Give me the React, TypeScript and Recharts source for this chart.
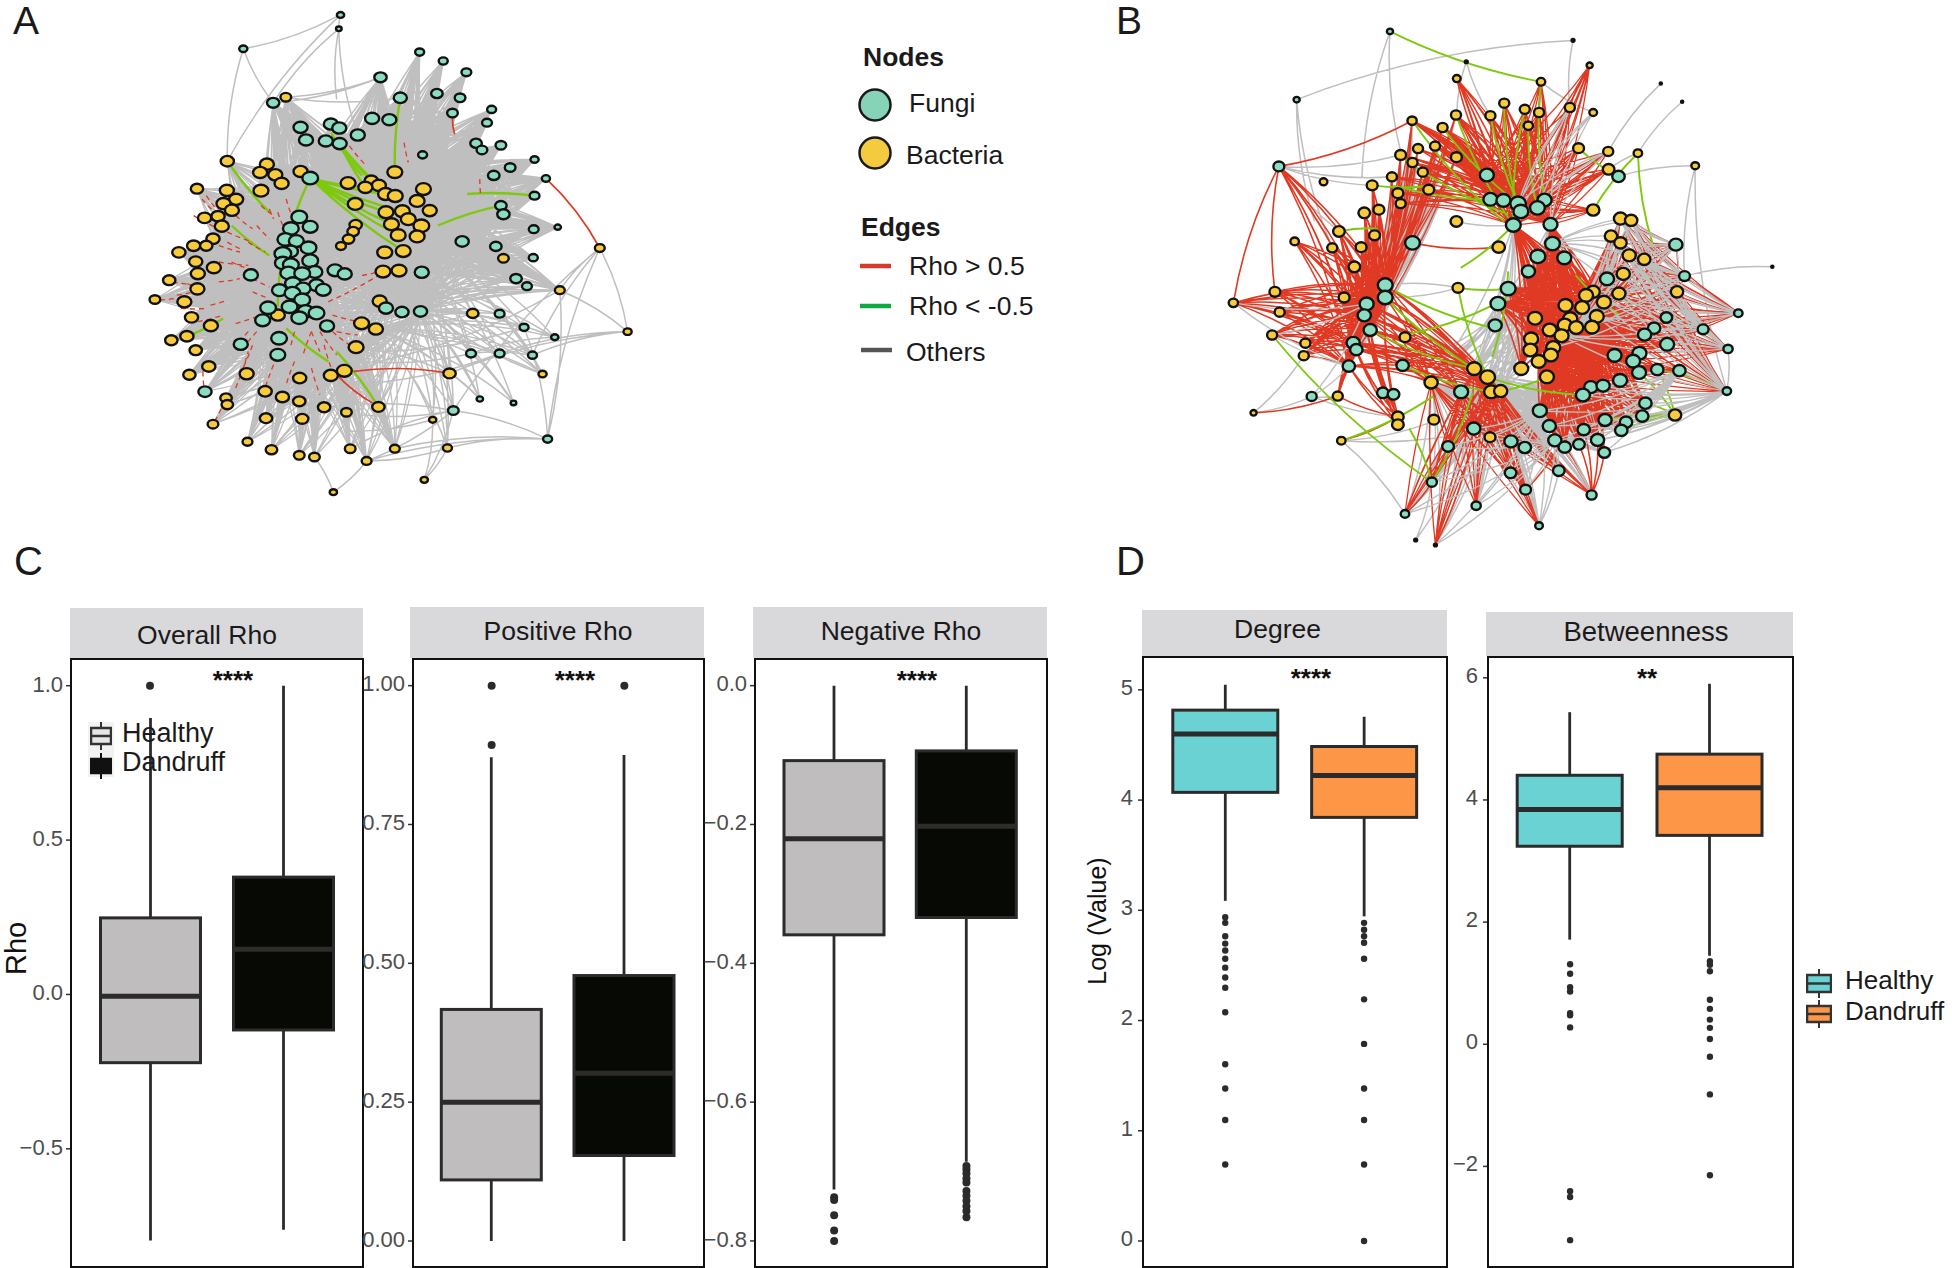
import { ComposedChart, ScatterChart, Scatter, Bar, XAxis, YAxis, ReferenceDot } from 'recharts';

const SANS = '"Liberation Sans", Arial, sans-serif';
const FUNGI = '#8bdcc0';
const BACTERIA = '#f8cb3c';
const EDGE_GRAY = '#bfbfbf';
const EDGE_RED = '#e03a24';
const EDGE_GREEN = '#7ec80e';

// Network nodes: x, y, radius (in a 1568 x 1568 frame laid over each panel)
const fungiA = [
  809,45,8, 805,87,6, 578,147,9, 997,157,10, 1053,184,10, 1108,218,11, 904,233,14, 1038,282,13, 1093,295,12, 951,295,15,
  649,310,14, 1168,330,10, 1075,341,12, 884,357,16, 925,361,16, 1157,370,11, 786,374,16, 806,386,16, 714,384,16, 850,407,16,
  727,422,16, 774,425,16, 807,433,16, 1131,432,13, 1145,452,12, 1190,438,12, 1004,467,10, 1270,481,9, 1212,505,12, 1173,529,13,
  737,537,18, 1297,538,9, 1270,590,11, 1190,620,13, 1196,646,14, 1325,685,7, 1268,691,11, 711,654,18, 691,689,18, 737,684,17,
  678,722,18, 704,727,17, 733,747,18, 1098,728,15, 1178,743,13, 690,758,17, 672,765,19, 1267,777,10, 737,786,18, 672,793,18,
  691,798,18, 796,815,17, 819,826,16, 748,820,17, 685,823,18, 718,825,18, 596,829,16, 1002,821,16, 1226,840,13, 1252,863,11,
  752,860,17, 696,855,18, 720,870,17, 664,875,17, 768,874,17, 695,884,18, 718,904,18, 637,928,18, 688,925,18, 726,939,18,
  752,944,18, 917,929,16, 955,941,15, 999,939,15, 1187,946,11, 711,958,18, 624,966,17, 777,983,16, 1245,987,10, 1318,1017,8,
  663,1020,18, 572,1038,16, 660,1070,17, 1119,1066,11, 1187,1066,11, 1265,1071,10, 487,1181,15, 1077,1238,12, 1140,1203,7,
  1220,1215,6, 1301,1324,10,
];
const bacteriaA = [
  679,293,12, 540,486,15, 634,495,16, 714,517,16, 618,520,16, 654,527,16, 669,553,16, 938,519,17, 468,569,14, 539,574,16,
  620,575,17, 827,552,17, 882,545,15, 900,559,16, 868,565,16, 916,585,17, 939,591,17, 1006,570,17, 561,601,16, 531,614,16,
  991,606,17, 844,615,17, 1021,635,16, 551,634,16, 917,640,17, 956,637,17, 486,657,15, 518,652,15, 970,661,17, 845,678,14,
  930,676,17, 1001,681,18, 527,682,16, 839,698,13, 946,709,17, 991,713,17, 828,721,13, 506,720,15, 460,741,15, 490,741,14,
  810,742,11, 914,761,17, 958,757,17, 425,761,15, 465,789,15, 1196,779,12, 508,807,16, 910,819,17, 948,816,17, 470,825,16,
  402,845,14, 469,871,16, 368,903,12, 438,910,16, 1330,875,11, 902,908,16, 455,957,15, 660,950,16, 859,975,17, 1123,945,13,
  893,992,16, 501,982,16, 407,1026,14, 444,1014,15, 465,1056,14, 846,1047,17, 1491,1000,9, 496,1105,15, 450,1130,14, 586,1127,16,
  712,1140,15, 786,1132,16, 818,1118,17, 1068,1126,14, 1289,1128,9, 630,1180,15, 671,1197,15, 711,1210,14, 537,1200,13, 540,1220,13,
  770,1228,14, 899,1227,14, 823,1243,12, 632,1261,14, 718,1263,14, 506,1279,12, 1028,1266,8, 588,1332,11, 645,1356,13, 711,1373,12,
  747,1378,12, 832,1353,12, 871,1390,11, 938,1353,11, 1063,1351,10, 1008,1447,8, 792,1484,8, 1425,748,11,
];
const fungiB = [
  250,466,13, 776,490,17, 1109,494,15, 785,558,17, 818,561,17, 855,570,19, 862,592,18, 922,560,17, 904,582,18, 843,630,18,
  937,628,17, 588,680,18, 1254,685,16, 942,682,18, 905,718,18, 972,722,17, 881,760,16, 1080,781,17, 1276,773,13, 830,808,18,
  519,798,18, 519,833,18, 472,851,17, 466,883,16, 804,850,18, 797,911,16, 481,924,16, 1412,877,10, 1230,889,14, 1199,919,15,
  1175,937,16, 1323,922,13, 438,960,16, 446,979,15, 1232,964,17, 1386,977,11, 1162,989,17, 1099,995,17, 1146,1011,17, 427,1025,15,
  563,1023,15, 1207,1035,15, 1161,1043,17, 1263,1038,15, 1113,1065,17, 1039,1084,16, 1070,1080,16, 1019,1106,17, 513,1100,14, 540,1104,14,
  333,1110,12, 711,1097,17, 1383,1095,10, 1177,1129,15, 910,1150,17, 1169,1165,15, 1075,1176,16, 1128,1182,15, 934,1193,16, 1116,1205,15,
  743,1200,16, 1021,1203,15, 948,1233,16, 837,1236,16, 1056,1232,16, 872,1253,15, 973,1252,15, 1009,1244,14, 678,1250,14, 1073,1267,14,
  836,1324,14, 958,1318,14, 874,1371,13, 637,1350,12, 1041,1386,12, 749,1416,11, 569,1439,10, 908,1472,9, 531,88,7, 295,279,7,
];
const bacteriaB = [
  913,229,10, 700,220,9, 1036,183,7, 820,289,12, 986,301,12, 872,306,12, 908,315,12, 1045,315,9, 698,322,12, 785,324,12,
  587,338,11, 881,352,11, 664,357,12, 1008,415,13, 1083,424,12, 1158,429,10, 602,416,12, 645,409,12, 558,434,13, 699,440,13,
  588,455,12, 1303,464,9, 614,482,12, 1084,474,14, 536,495,12, 363,509,9, 486,519,13, 629,531,13, 551,541,13, 558,570,12,
  1045,588,15, 503,587,13, 466,596,14, 1114,612,16, 1141,617,15, 699,620,14, 402,648,14, 492,659,13, 290,676,10, 385,694,12,
  458,692,13, 806,692,15, 1090,661,15, 1114,680,15, 1136,715,16, 1174,726,15, 441,747,14, 1121,767,16, 703,806,13, 240,817,13,
  415,833,13, 1045,817,16, 1027,827,17, 1110,822,16, 1257,817,15, 1072,846,17, 135,848,11, 975,855,17, 1017,861,17, 252,874,12,
  1054,886,17, 898,891,17, 987,892,17, 973,910,17, 1002,917,17, 1042,916,17, 935,924,17, 965,940,17, 569,944,13, 233,938,12,
  888,949,17, 317,961,12, 886,980,17, 944,973,17, 938,994,17, 313,996,12, 907,1012,17, 744,1032,17, 863,1032,17, 778,1056,18,
  928,1055,17, 635,1071,16, 787,1097,17, 811,1095,16, 399,1109,12, 551,1167,14, 1252,1162,15, 642,1175,13, 551,1189,14, 186,1156,7,
  784,1224,13, 408,1234,10,
];
const tinyB = [994,113,3, 724,173,3, 1216,234,2, 1270,285,2, 1498,747,2, 596,1512,3, 646,1526,3];

// Node groups that the edge bundles of network A run between
const aCentre = [711,654, 691,689, 737,684, 678,722, 733,747, 672,765, 737,786, 691,798, 718,825, 696,855, 664,875, 768,874, 718,904, 637,928, 688,925, 752,944, 624,966, 737,537];
const aLeft = [540,486, 468,569, 539,574, 561,601, 531,614, 551,634, 486,657, 518,652, 527,682, 506,720, 460,741, 490,741, 425,761, 465,789, 508,807, 470,825, 402,845, 469,871, 368,903, 438,910, 455,957, 501,982, 407,1026, 444,1014, 465,1056, 496,1105, 450,1130];
const aBottom = [586,1127, 712,1140, 786,1132, 818,1118, 630,1180, 671,1197, 711,1210, 537,1200, 540,1220, 770,1228, 899,1227, 823,1243, 632,1261, 718,1263, 506,1279, 487,1181, 588,1332, 645,1356, 711,1373, 747,1378, 832,1353, 871,1390, 938,1353];
const aTop = [904,233, 951,295, 884,357, 925,361, 786,374, 806,386, 714,384, 850,407, 727,422, 774,425, 807,433, 649,310, 679,293, 634,495, 714,517, 618,520, 654,527, 669,553, 620,575];
const aMid = [827,552, 882,545, 900,559, 868,565, 916,585, 939,591, 1006,570, 991,606, 844,615, 1021,635, 917,640, 956,637, 970,661, 930,676, 1001,681, 946,709, 991,713, 914,761, 958,757, 910,819, 948,816, 1002,821, 902,908, 917,929, 955,941, 999,939, 938,519];
const aMidHub = [916,585, 1006,570, 991,713, 958,757, 910,819, 1002,821, 917,929, 999,939, 1001,681, 946,709];
const aMidFew = [991,713, 910,819, 999,939, 893,992];
const aRight = [997,157, 1053,184, 1108,218, 1038,282, 1093,295, 1168,330, 1075,341, 1157,370, 1131,432, 1145,452, 1190,438, 1004,467, 1270,481, 1212,505, 1173,529, 1297,538, 1270,590, 1190,620, 1196,646, 1325,685, 1268,691, 1098,728, 1178,743, 1267,777, 1196,779, 1226,840, 1252,863, 1330,875];
const aLowRight = [1123,945, 1187,946, 1245,987, 1318,1017, 1119,1066, 1187,1066, 1265,1071, 1068,1126, 1289,1128, 1140,1203, 1220,1215, 1077,1238, 1028,1266, 1063,1351];

// Single edges, x1,y1,x2,y2
const aGrayEdges = [
  809,45,540,486, 805,87,850,407, 805,87,800,300, 809,45,805,87, 578,147,540,486, 578,147,649,310, 578,147,800,50, 805,87,649,310,
  1491,1000,1330,875, 1491,1000,1425,748, 1491,1000,1265,1071, 1491,1000,1187,1066, 1491,1000,1068,1126, 1425,748,1301,1324, 1425,748,1077,1238, 1425,748,1330,875,
  1425,748,1265,1071, 1301,1324,1330,875, 1301,1324,871,1390, 1301,1324,938,1353, 1301,1324,1063,1351, 1301,1324,1077,1238, 1301,1324,1245,987, 1008,1447,1077,1238,
  1008,1447,1063,1351, 792,1484,747,1378, 792,1484,871,1390, 871,1390,1077,1238, 871,1390,1063,1351, 1008,1447,1028,1266, 679,293,904,233, 679,293,951,295, 649,310,904,233,
  1318,1017,1119,1066, 1265,1071,1119,1066, 1289,1128,1187,946, 1220,1215,1119,1066, 1140,1203,1068,1126, 1077,1238,832,1353, 1077,1238,770,1228, 1068,1126,846,1047,
  900,1090,1330,875, 880,1060,1245,987, 860,1090,1119,1066, 830,1160,1187,1066, 850,1250,1077,1238, 820,1300,1028,1266, 960,980,1123,945, 1040,960,1289,1128,
];
// Red streaks that show between the gray lines
const aRedStreaks = [
  410,850,470,860, 380,905,440,895, 445,855,470,870, 600,840,640,865, 480,600,510,640, 520,740,570,760, 520,790,590,800, 540,730,570,750,
  620,620,650,650, 680,600,690,640, 640,630,650,660, 560,1170,590,1060, 650,1100,630,1170, 740,1000,720,1070, 790,950,850,970, 790,1000,830,1040,
  770,1040,790,1120, 482,1120,485,1170, 510,1270,530,1220, 860,830,900,820, 780,910,900,830, 1140,540,1142,590, 960,430,970,490,
  830,440,870,500, 490,590,520,640, 730,760,760,800, 740,1000,760,1060, 560,975,610,955, 500,920,540,905, 520,850,570,840,
  570,1130,600,1040, 610,1000,590,1030, 655,1090,670,1030, 550,790,610,820, 540,700,600,730, 600,880,640,900, 420,890,460,880, 700,1000,690,1050,
  610,680,640,720, 760,1000,800,1070, 460,650,520,690, 560,650,600,690, 590,730,630,760, 660,640,672,680, 590,1000,570,1030, 700,1090,680,1160,
  740,1110,760,1190, 800,1000,850,1010, 470,970,530,950, 430,930,490,930,
];
const aRedEdges = [1425,748,1297,538, 1068,1126,840,1120, 800,1130,885,1215, 1075,355,1080,405];
const aGreenEdges = [
  807,433,868,565, 807,433,900,559, 807,433,882,545, 786,400,860,530, 951,295,938,519, 1190,620,1040,680, 737,537,672,765, 672,765,660,925,
  1270,590,1110,585, 540,486,640,640, 444,1014,530,960, 899,1227,800,1060, 550,680,640,770, 680,990,780,1090,
  737,537,917,640, 737,537,930,676, 737,537,946,709, 737,537,958,757, 737,537,956,637, 737,537,916,585, 737,537,868,565,
];

// Node groups that the edge bundles of network B run between
const bLeftHub = [519,798, 519,833, 472,851, 466,883, 481,924, 438,960, 446,979, 427,1025];
const bLeftFew = [519,798, 472,851, 481,924];
const bLeftRing = [135,848, 240,817, 252,874, 233,938, 317,961, 313,996, 415,833, 441,747, 385,694, 458,692, 402,648, 492,659, 466,596, 503,587, 486,519, 290,676, 250,466, 399,1109, 551,1167, 551,1189];
const bUpLeft = [558,434, 588,455, 536,495, 614,482, 629,531, 551,541, 558,570, 602,416, 645,409, 664,357, 699,440, 587,338, 698,322];
const bTopHub = [776,490, 785,558, 818,561, 855,570, 862,592, 904,582, 922,560, 843,630, 937,628];
const bTopFew = [855,570, 904,582, 843,630, 937,628];
const bTopRing = [700,220, 820,289, 872,306, 908,315, 785,324, 881,352, 986,301, 1036,183, 913,229, 1008,415, 1083,424, 1084,474, 1045,588, 698,322, 664,357, 587,338, 645,409, 699,440];
const bCore = [1045,817, 1027,827, 975,855, 1017,861, 1072,846, 1054,886, 898,891, 987,892, 973,910, 1002,917, 1042,916, 935,924, 965,940, 888,949, 886,980, 944,973, 938,994, 907,1012, 863,1032, 928,1055];
const bCoreFew = [1045,817, 1072,846, 1054,886, 1002,917, 965,940, 944,973, 907,1012, 928,1055];
const bUpperHub = [942,682, 905,718, 972,722, 881,760, 843,630, 937,628, 1080,781, 830,808, 804,850];
const bRightF = [1230,889, 1199,919, 1175,937, 1232,964, 1162,989, 1099,995, 1146,1011, 1207,1035, 1161,1043, 1263,1038, 1113,1065, 1254,685, 1276,773, 1323,922, 1412,877, 1386,977, 1383,1095];
const bRightOuter = [1254,685, 1276,773, 1323,922, 1412,877, 1386,977, 1383,1095];
const bRightB = [1114,612, 1141,617, 1090,661, 1114,680, 1136,715, 1174,726, 1121,767, 1110,822, 1257,817];
const bLowF = [1039,1084, 1070,1080, 1019,1106, 1177,1129, 1169,1165, 1075,1176, 1128,1182, 1116,1205, 1021,1203, 948,1233, 1056,1232, 973,1252, 1009,1244, 1073,1267, 934,1193, 910,1150];
const bMidLow = [744,1032, 778,1056, 787,1097, 811,1095, 635,1071, 711,1097];
const bBottom = [837,1236, 872,1253, 836,1324, 958,1318, 874,1371, 743,1200, 784,1224, 678,1250, 637,1350, 749,1416, 908,1472, 1041,1386, 646,1526, 569,1439];
const bGrayEdges = [
  531,88,460,500, 531,88,560,434, 994,113,295,279, 994,113,986,301, 724,173,785,324, 724,173,700,320, 295,279,385,694, 295,279,340,620,
  1216,234,1083,424, 1270,285,1158,429, 1158,429,1084,474, 1303,464,1109,494, 1303,464,1276,773, 1303,464,1383,1095, 1498,747,1276,773, 913,229,1045,315,
  250,466,558,434, 250,466,536,495, 250,466,486,519, 250,466,402,648, 186,1156,313,996, 186,1156,333,1110, 333,1110,551,1167, 333,1110,399,1109,
  408,1234,778,1200, 408,1234,640,1180, 569,1439,408,1234, 569,1439,637,1350, 596,1512,743,1200, 596,1512,636,1350, 908,1472,874,1371, 908,1472,958,1318,
  637,1350,678,1250, 637,1350,743,1200, 749,1416,743,1200, 703,806,830,808, 703,806,519,798, 519,833,703,806, 699,620,843,630, 588,680,458,692,
  1383,1095,1263,1038, 1383,1095,1386,977, 1386,977,1323,922, 1412,877,1230,889, 1386,977,1232,964, 680,970,800,880, 670,1000,800,880, 690,990,804,890,
];
const bRedEdges = [
  250,466,587,338, 250,466,135,848, 250,466,240,817, 186,1156,399,1109, 399,1109,551,1167, 408,1234,551,1167, 646,1526,743,1200, 569,1439,637,1350,
  1041,1386,1021,1203, 1041,1386,1056,1232, 1041,1386,1009,1244, 1041,1386,1073,1267, 1041,1386,973,1252, 1041,1386,948,1233, 874,1371,958,1250, 588,680,806,692,
  700,220,800,500, 1036,183,986,301, 1412,877,1174,726, 1386,977,1175,937, 1254,685,1136,715, 1276,773,1121,767,
];
const bGreenEdges = [
  531,88,913,229, 913,229,922,560, 1158,429,1045,588, 1158,429,1197,690, 1252,1162,1169,1165, 1252,1162,1177,1129, 1252,1162,1128,1182, 1252,1162,1116,1205,
  1252,1162,1075,1176, 1252,1162,1207,1035, 1252,1162,1161,1043, 1383,1095,1230,1040, 408,1234,640,1110, 233,938,637,1350, 637,1350,580,1200, 637,1350,740,1100,
  703,806,778,1056, 703,806,830,808, 710,750,843,630, 560,940,800,850, 545,815,800,920, 500,640,402,648, 486,519,630,520, 790,1000,830,760,
  560,440,830,600, 540,520,800,560, 588,338,820,620, 820,289,850,560, 1008,415,1109,494, 778,1056,1019,1106, 811,1095,928,1055, 1000,770,1110,880,
  785,324,855,570, 872,306,843,630, 881,352,904,582, 698,322,843,630, 664,357,855,570, 519,833,778,1056, 481,924,744,1032, 563,1023,787,1097,
];

// Box plot statistics
const overallStats = [
  { group: 'Healthy', lo: -0.797, q1: -0.221, med: -0.006, q3: 0.248, hi: 0.895 },
  { group: 'Dandruff', lo: -0.762, q1: -0.115, med: 0.146, q3: 0.38, hi: 1.0 },
];
const overallOutliers = { Healthy: [1.0], Dandruff: [] as number[] };
const positiveStats = [
  { group: 'Healthy', lo: 0, q1: 0.11, med: 0.25, q3: 0.417, hi: 0.871 },
  { group: 'Dandruff', lo: 0, q1: 0.154, med: 0.302, q3: 0.478, hi: 0.875 },
];
const positiveOutliers = { Healthy: [1.0, 0.893], Dandruff: [1.0] };
const negativeStats = [
  { group: 'Healthy', lo: -0.726, q1: -0.359, med: -0.2206, q3: -0.108, hi: 0 },
  { group: 'Dandruff', lo: -0.686, q1: -0.334, med: -0.2025, q3: -0.094, hi: 0 },
];
const negativeOutliers = {
  Healthy: [-0.737, -0.741, -0.763, -0.785, -0.8],
  Dandruff: [-0.692, -0.697, -0.703, -0.71, -0.716, -0.728, -0.735, -0.742, -0.75, -0.757, -0.766],
};
const degreeStats = [
  { group: 'Healthy', lo: 3.086, q1: 4.07, med: 4.6, q3: 4.816, hi: 5.047 },
  { group: 'Dandruff', lo: 2.945, q1: 3.843, med: 4.224, q3: 4.486, hi: 4.757 },
];
const degreeOutliers = {
  Healthy: [2.937, 2.886, 2.765, 2.698, 2.635, 2.56, 2.48, 2.39, 2.298, 2.075, 1.604, 1.384, 1.098, 0.694],
  Dandruff: [2.886, 2.824, 2.765, 2.706, 2.56, 2.192, 1.788, 1.384, 1.098, 0.694, 0],
};
const betweenStats = [
  { group: 'Healthy', lo: 1.713, q1: 3.242, med: 3.844, q3: 4.404, hi: 5.437 },
  { group: 'Dandruff', lo: 1.451, q1: 3.42, med: 4.198, q3: 4.75, hi: 5.904 },
];
const betweenOutliers = {
  Healthy: [1.31, 1.154, 0.934, 0.864, 0.51, 0.474, 0.276, -2.407, -2.5, -3.207],
  Dandruff: [1.36, 1.303, 1.196, 0.729, 0.58, 0.404, 0.269, 0.085, -0.205, -0.821, -2.145],
};

const GRAYS = { Healthy: '#bfbdbe', Dandruff: '#070a04' };
const COLOURS = { Healthy: '#6bd2d4', Dandruff: '#fe9648' };

type Pt = { x: number; y: number };

function points(flat: number[]): Pt[] {
  const out: Pt[] = [];
  for (let i = 0; i < flat.length; i += 2) out.push({ x: flat[i], y: flat[i + 1] });
  return out;
}
// every node of one group linked to every node of the other, as consecutive point pairs
function bundle(a: number[], b: number[]): Pt[] {
  const pa = points(a);
  const pb = points(b);
  return pa.flatMap((p) => pb.flatMap((q) => (p.x === q.x && p.y === q.y ? [] : [p, q])));
}
function nodes(flat: number[], fill: string, sx: number, sy: number) {
  const out = [];
  for (let i = 0; i < flat.length; i += 3) {
    out.push({ x: flat[i], y: flat[i + 1], rx: flat[i + 2] * sx + 0.3, ry: flat[i + 2] * sy + 0.3, fill });
  }
  return out;
}

function NodeMark({ cx, cy, payload }: any) {
  return <ellipse cx={cx} cy={cy} rx={payload.rx} ry={payload.ry} fill={payload.fill} stroke="#111" strokeWidth={2.4} />;
}
const noMark = () => null;

// draws the scaled point pairs of one edge layer as slightly bent lines
function edgeLine(stroke: string, width: number, bend: number, dash?: string) {
  return ({ points: pts }: any) => {
    let d = '';
    for (let i = 0; i + 1 < pts.length; i += 2) {
      const a = pts[i];
      const b = pts[i + 1];
      const mx = (a.x + b.x) / 2 - (b.y - a.y) * bend;
      const my = (a.y + b.y) / 2 + (b.x - a.x) * bend;
      d += `M${a.x.toFixed(1)} ${a.y.toFixed(1)}Q${mx.toFixed(1)} ${my.toFixed(1)} ${b.x.toFixed(1)} ${b.y.toFixed(1)}`;
    }
    return <path d={d} fill="none" stroke={stroke} strokeWidth={width} strokeDasharray={dash} />;
  };
}

function Network({ left, top, width, height, layers, nodeSets }: any) {
  return (
    <div style={{ position: 'absolute', left, top }}>
      <ScatterChart width={width} height={height} margin={{ top: 0, right: 0, bottom: 0, left: 0 }}>
        <XAxis type="number" dataKey="x" domain={[0, 1568]} hide />
        <YAxis type="number" dataKey="y" domain={[0, 1568]} reversed hide />
        {layers.map((l: any, i: number) => (
          <Scatter
            key={i}
            data={l.pts}
            shape={noMark}
            line={edgeLine(l.stroke, l.width, l.bend, l.dash)}
            lineType="joint"
            isAnimationActive={false}
          />
        ))}
        {nodeSets.map((s: any, i: number) => (
          <Scatter key={`n${i}`} data={s} shape={NodeMark} isAnimationActive={false} />
        ))}
      </ScatterChart>
    </div>
  );
}

function BoxMark({ x, y, width, height, payload, fills, medianWidth }: any) {
  const k = height / (payload.q3 - payload.q1);
  const mid = x + width / 2;
  const medY = y + (payload.q3 - payload.med) * k;
  const hiY = y - (payload.hi - payload.q3) * k;
  const loY = y + height + (payload.q1 - payload.lo) * k;
  const dark = payload.group === 'Dandruff' && fills.Dandruff === '#070a04';
  return (
    <g>
      <line x1={mid} x2={mid} y1={hiY} y2={loY} stroke="#2b2b2b" strokeWidth={2.8} />
      <rect x={x} y={y} width={width} height={height} fill={fills[payload.group]} stroke="#2b2b2b" strokeWidth={3} />
      <line x1={x} x2={x + width} y1={medY} y2={medY} stroke={dark ? '#2e2c2a' : '#2b2b2b'} strokeWidth={medianWidth} />
    </g>
  );
}

function BoxPanel({
  title, left, right, top, stripTop, stripLeft, titleX, titleY, titleSize = 26.5, axisWidth = 60,
  stats, outliers, domain, ticks, format, pad, barSize, fills, dotR, sig, sigX, shift = 1, tickDy = -2, tickMargin = 3,
}: any) {
  const width = right - left;
  const height = 1267 - top;
  return (
    <>
      <div style={{ position: 'absolute', left: stripLeft, top: stripTop, width: right - stripLeft, height: top - stripTop, background: '#d9d8da' }} />
      <div style={{ position: 'absolute', left: titleX - 150, width: 300, top: titleY - 20, height: 40, lineHeight: '40px', textAlign: 'center', fontFamily: SANS, fontSize: titleSize, color: '#1a1a1a' }}>
        {title}
      </div>
      <div style={{ position: 'absolute', left: left - axisWidth, top: top + shift }}>
        <ComposedChart width={width + axisWidth} height={height} data={stats} margin={{ top: 0, right: 0, bottom: 0, left: 0 }}>
          <XAxis type="category" dataKey="group" hide padding={{ left: pad, right: pad }} />
          <YAxis
            type="number"
            width={axisWidth}
            domain={domain}
            allowDataOverflow
            ticks={ticks}
            interval={0}
            tickFormatter={format}
            axisLine={false}
            tickSize={4}
            tickMargin={tickMargin}
            tickLine={{ stroke: '#333', strokeWidth: 1.5 }}
            tick={{ fontSize: 22, fill: '#4d4d4d', fontFamily: SANS, dy: tickDy }}
          />
          <Bar
            dataKey={(d: any) => [d.q1, d.q3]}
            barSize={barSize}
            isAnimationActive={false}
            shape={(p: any) => <BoxMark {...p} fills={fills} medianWidth={5} />}
          />
          {outliers.Healthy.map((v: number, i: number) => (
            <ReferenceDot key={`h${i}`} x="Healthy" y={v} r={dotR} fill="#2b2b2b" stroke="none" />
          ))}
          {outliers.Dandruff.map((v: number, i: number) => (
            <ReferenceDot key={`d${i}`} x="Dandruff" y={v} r={dotR} fill="#2b2b2b" stroke="none" />
          ))}
        </ComposedChart>
      </div>
      <div style={{ position: 'absolute', left, top, width: width - 3, height: height - 3, border: '2px solid #111', pointerEvents: 'none' }} />
      <div style={{ position: 'absolute', left: sigX - 50, width: 100, top: top + 7, textAlign: 'center', fontFamily: SANS, fontWeight: 700, fontSize: 26, lineHeight: '30px', color: '#111' }}>
        {sig}
      </div>
    </>
  );
}

function Txt({ x, y, size = 26.5, bold, color = '#1a1a1a', children }: any) {
  return (
    <div style={{ position: 'absolute', left: x, top: y - 20, height: 40, lineHeight: '40px', whiteSpace: 'nowrap', fontFamily: SANS, fontSize: size, fontWeight: bold ? 700 : 400, color }}>
      {children}
    </div>
  );
}

function BoxKey({ x, y, w, h, fill, stroke = '#333' }: any) {
  return (
    <svg style={{ position: 'absolute', left: x, top: y - 6 }} width={w + 2} height={h + 12}>
      <line x1={w / 2 + 1} x2={w / 2 + 1} y1={0} y2={h + 12} stroke={stroke} strokeWidth={2} />
      <rect x={1} y={6} width={w} height={h} fill={fill} stroke={stroke} strokeWidth={2.5} />
      <line x1={1} x2={w + 1} y1={6 + h / 2} y2={6 + h / 2} stroke={stroke} strokeWidth={2.5} />
    </svg>
  );
}

const signed = (digits: number) => (v: number) => (v < 0 ? `\u2212${Math.abs(v).toFixed(digits)}` : v.toFixed(digits));
const plainInt = (v: number) => (v < 0 ? `\u2212${Math.abs(v)}` : `${v}`);

const layersA = [
  { pts: bundle(aLeft, aCentre), stroke: EDGE_GRAY, width: 1.3, bend: 0.06 },
  { pts: bundle(aBottom, aCentre), stroke: EDGE_GRAY, width: 1.3, bend: 0.06 },
  { pts: bundle(aTop, aMid), stroke: EDGE_GRAY, width: 1.6, bend: 0.05 },
  { pts: bundle(aTop, aCentre), stroke: EDGE_GRAY, width: 1.4, bend: 0.05 },
  { pts: bundle(aRight, aMid), stroke: EDGE_GRAY, width: 1.6, bend: 0.05 },
  { pts: bundle(aLowRight, aMidFew), stroke: EDGE_GRAY, width: 1.5, bend: 0.1 },
  { pts: bundle(aLeft, aMidHub), stroke: EDGE_GRAY, width: 1.2, bend: 0.04 },
  { pts: bundle(aBottom, aMidFew), stroke: EDGE_GRAY, width: 1.3, bend: 0.08 },
  { pts: points(aGrayEdges), stroke: EDGE_GRAY, width: 1.5, bend: 0.08 },
  { pts: points(aGreenEdges), stroke: EDGE_GREEN, width: 2.4, bend: 0.05 },
  { pts: points(aRedStreaks), stroke: EDGE_RED, width: 1.3, bend: 0.03, dash: '5 4' },
  { pts: points(aRedEdges), stroke: EDGE_RED, width: 1.7, bend: 0.08 },
];

const layersB = [
  { pts: [...bundle(bLeftHub, bUpLeft), ...bundle(bMidLow, bLowF), ...bundle(bMidLow, bUpperHub), ...bundle(bBottom, bMidLow), ...points(bGrayEdges)], stroke: EDGE_GRAY, width: 1.5, bend: 0.08 },
  { pts: bundle(bLeftHub, bLeftRing), stroke: EDGE_RED, width: 1.5, bend: 0.08 },
  { pts: bundle(bLeftFew, bUpLeft), stroke: EDGE_RED, width: 1.3, bend: 0.06 },
  { pts: bundle(bTopHub, bTopRing), stroke: EDGE_RED, width: 1.3, bend: 0.06 },
  { pts: bundle(bTopFew, bUpLeft), stroke: EDGE_RED, width: 1.3, bend: 0.07 },
  { pts: bundle(bCore, bUpperHub), stroke: EDGE_RED, width: 1.6, bend: 0.05 },
  { pts: bundle(bCoreFew, bRightF), stroke: EDGE_RED, width: 1.2, bend: 0.05 },
  { pts: bundle(bCoreFew, bRightB), stroke: EDGE_RED, width: 1.2, bend: 0.05 },
  { pts: bundle(bCoreFew, bLowF), stroke: EDGE_RED, width: 1.6, bend: 0.04 },
  { pts: bundle(bRightB, bRightOuter), stroke: EDGE_RED, width: 1.2, bend: 0.06 },
  { pts: bundle(bMidLow, bLeftHub), stroke: EDGE_RED, width: 1.4, bend: 0.08 },
  { pts: bundle(bMidLow, bBottom), stroke: EDGE_RED, width: 1.3, bend: 0.04 },
  { pts: points(bRedEdges), stroke: EDGE_RED, width: 1.6, bend: 0.08 },
  { pts: points(bGreenEdges), stroke: EDGE_GREEN, width: 1.9, bend: 0.07 },
  { pts: [...bundle(bRightB, bRightOuter), ...bundle(bRightB, [942,682, 1080,781]), ...bundle([1083,424, 1045,315, 986,301], bTopFew), ...bundle(bLowF, [1383,1095, 1263,1038]), ...bundle(bBottom, [948,1233, 910,1150]), ...bundle([136,848, 333,1110, 233,938], [472,851, 427,1025]), ...bundle([1045,817, 1054,886, 965,940], bRightOuter), ...bundle([1002,917, 944,973], bRightB)], stroke: EDGE_GRAY, width: 1.4, bend: 0.09 },
];

export default function App() {
  return (
    <div style={{ position: 'absolute', left: 0, top: 0, width: 1952, height: 1268, background: '#fff', overflow: 'hidden' }}>
      <Network
        left={0} top={0} width={660} height={520}
        layers={layersA}
        nodeSets={[nodes(bacteriaA, BACTERIA, 0.421, 0.3316), nodes(fungiA, FUNGI, 0.421, 0.3316)]}
      />
      <Network
        left={1180} top={0} width={620} height={560}
        layers={layersB}
        nodeSets={[nodes(fungiB, FUNGI, 0.395, 0.357), nodes(bacteriaB, BACTERIA, 0.395, 0.357), nodes(tinyB, '#111', 0.395, 0.357)]}
      />

      <Txt x={13} y={21} size={39}>A</Txt>
      <Txt x={1116} y={21} size={39}>B</Txt>
      <Txt x={14} y={561} size={40}>C</Txt>
      <Txt x={1116} y={561} size={40}>D</Txt>

      <Txt x={863} y={57} bold>Nodes</Txt>
      <svg style={{ position: 'absolute', left: 855, top: 85 }} width={40} height={90}>
        <circle cx={20} cy={20} r={15.5} fill="#86d3b8" stroke="#1a1a1a" strokeWidth={2.5} />
        <circle cx={20} cy={68} r={15.5} fill="#f4ca3f" stroke="#1a1a1a" strokeWidth={2.5} />
      </svg>
      <Txt x={909} y={103}>Fungi</Txt>
      <Txt x={906} y={155}>Bacteria</Txt>
      <Txt x={861} y={227} bold>Edges</Txt>
      <svg style={{ position: 'absolute', left: 858, top: 258 }} width={36} height={100}>
        <line x1={2} x2={33} y1={8} y2={8} stroke="#d9392b" strokeWidth={4.5} />
        <line x1={2} x2={33} y1={48} y2={48} stroke="#0fa843" strokeWidth={4.5} />
        <line x1={3} x2={34} y1={92} y2={92} stroke="#555" strokeWidth={4.5} />
      </svg>
      <Txt x={909} y={266}>Rho &gt; 0.5</Txt>
      <Txt x={909} y={306}>Rho &lt; -0.5</Txt>
      <Txt x={906} y={352}>Others</Txt>

      <BoxPanel
        title="Overall Rho" left={70} right={363} top={658} stripLeft={70} stripTop={608} titleX={207} titleY={635}
        stats={overallStats} outliers={overallOutliers} domain={[-0.886, 1.0865]} ticks={[-0.5, 0, 0.5, 1]}
        format={signed(1)} pad={13.5} barSize={100} fills={GRAYS} dotR={4} sig="****" sigX={233}
      />
      <BoxPanel
        title="Positive Rho" left={412} right={704} top={658} stripLeft={410} stripTop={607} titleX={558} titleY={631}
        stats={positiveStats} outliers={positiveOutliers} domain={[-0.0486, 1.048]} ticks={[0, 0.25, 0.5, 0.75, 1]}
        format={signed(2)} pad={13.3} barSize={100} fills={GRAYS} dotR={4} sig="****" sigX={575}
      />
      <BoxPanel
        title="Negative Rho" left={754} right={1046.6} top={658} stripLeft={753.3} stripTop={607} titleX={901} titleY={631}
        stats={negativeStats} outliers={negativeOutliers} domain={[-0.839, 0.0384]} ticks={[-0.8, -0.6, -0.4, -0.2, 0]}
        format={signed(1)} pad={14} barSize={100} fills={GRAYS} dotR={4} sig="****" sigX={917}
      />
      <BoxPanel
        title="Degree" left={1142} right={1447.3} top={656} stripLeft={1142.2} stripTop={609.5} titleX={1277.5} titleY={629}
        stats={degreeStats} outliers={degreeOutliers} domain={[-0.245, 5.298]} ticks={[0, 1, 2, 3, 4, 5]}
        format={plainInt} pad={13.8} barSize={105} fills={COLOURS} dotR={3.2} sig="****" sigX={1311}
        shift={1} tickDy={-3} tickMargin={5}
      />
      <BoxPanel
        title="Betweenness" left={1487} right={1793} top={656} stripLeft={1486.3} stripTop={611.6} titleX={1646} titleY={632} titleSize={27.5}
        stats={betweenStats} outliers={betweenOutliers} domain={[-3.647, 6.357]} ticks={[-2, 0, 2, 4, 6]}
        format={plainInt} pad={13.2} barSize={105} fills={COLOURS} dotR={3.2} sig="**" sigX={1647}
        shift={0} tickDy={-3} tickMargin={5}
      />

      <div style={{ position: 'absolute', left: -4, top: 935, width: 40, height: 40, lineHeight: '40px', textAlign: 'center', transform: 'rotate(-90deg)', fontFamily: SANS, fontSize: 29, whiteSpace: 'nowrap', color: '#111' }}>
        Rho
      </div>
      <div style={{ position: 'absolute', left: 1017, top: 901, width: 160, height: 40, lineHeight: '40px', textAlign: 'center', transform: 'rotate(-90deg)', fontFamily: SANS, fontSize: 25, whiteSpace: 'nowrap', color: '#111' }}>
        Log (Value)
      </div>

      <div style={{ position: 'absolute', left: 88, top: 722, width: 26, height: 55, background: '#f2f2f2' }} />
      <BoxKey x={90} y={728} w={20} h={16} fill="#e6e6e6" />
      <BoxKey x={90} y={759} w={20} h={14} fill="#111" stroke="#111" />
      <Txt x={122} y={733} size={27}>Healthy</Txt>
      <Txt x={122} y={762} size={27}>Dandruff</Txt>

      <BoxKey x={1806} y={975} w={24} h={17} fill={COLOURS.Healthy} />
      <BoxKey x={1806} y={1006} w={24} h={16} fill={COLOURS.Dandruff} />
      <Txt x={1845} y={980} size={26}>Healthy</Txt>
      <Txt x={1845} y={1011} size={26}>Dandruff</Txt>
    </div>
  );
}
